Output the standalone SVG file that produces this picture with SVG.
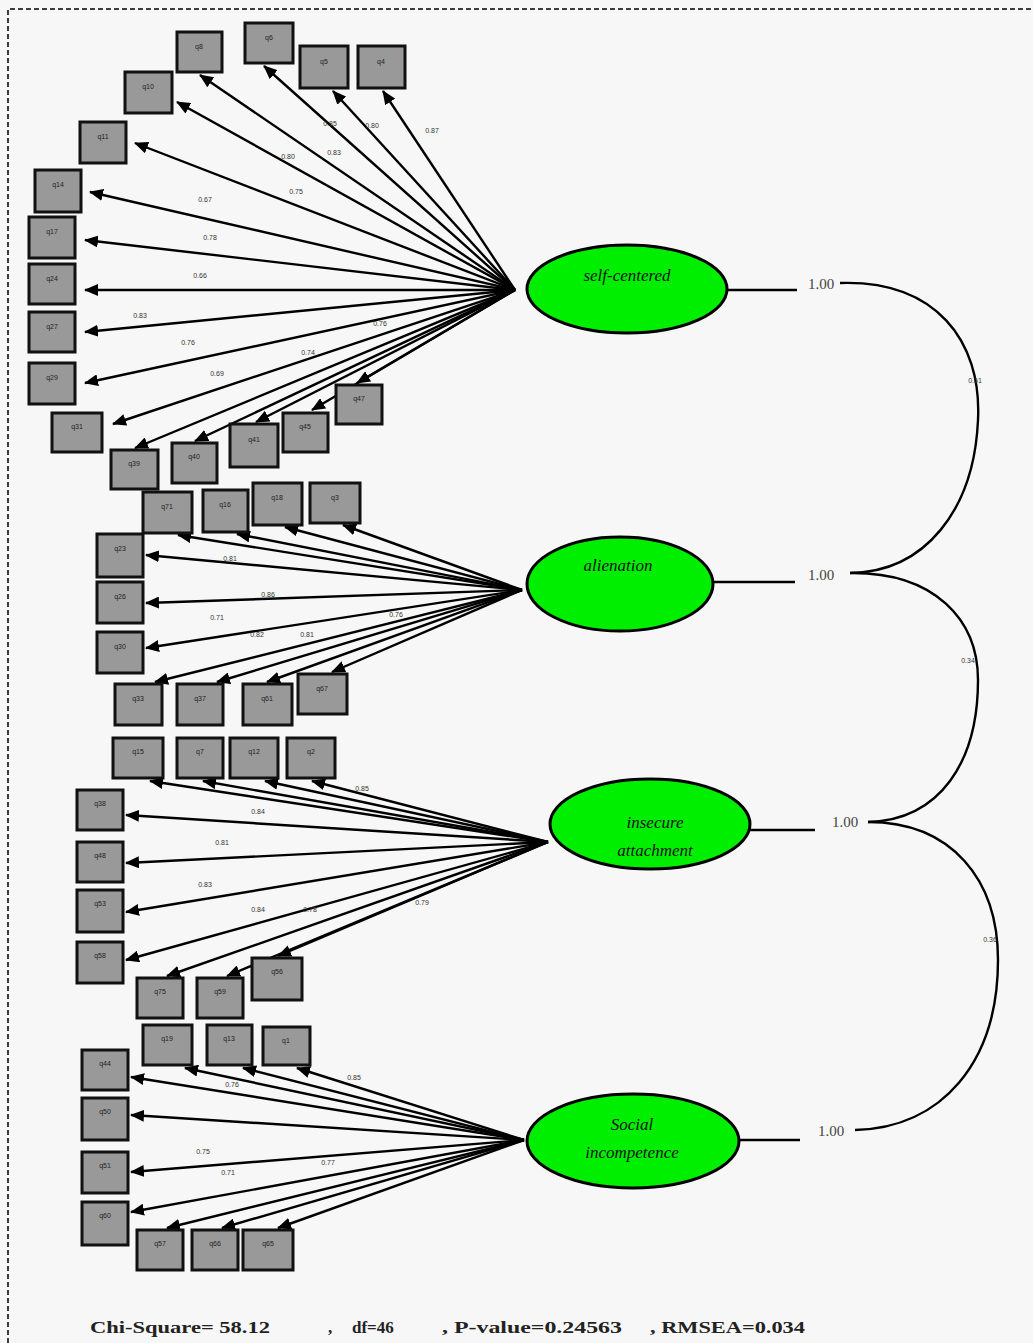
<svg xmlns="http://www.w3.org/2000/svg" width="1033" height="1343" viewBox="0 0 1033 1343">
<style>
.bx{fill:#999;stroke:#111;stroke-width:3}
.bt{font-family:"Liberation Sans",Arial,sans-serif;font-size:7px;fill:#222;text-anchor:middle}
.ar{stroke:#000;stroke-width:2.4;fill:none;marker-end:url(#ah)}
.ln{stroke:#000;stroke-width:2.4;fill:none}
.lb{font-family:"Liberation Sans",Arial,sans-serif;font-size:7px;fill:#333;text-anchor:middle}
.el{fill:#00ee00;stroke:#000;stroke-width:3}
.et{font-family:"Liberation Serif","Times New Roman",serif;font-style:italic;font-size:17px;fill:#111;text-anchor:middle}
.one{font-family:"Liberation Serif","Times New Roman",serif;font-size:15px;fill:#444}
.ft{font-family:"Liberation Serif","Times New Roman",serif;font-size:17px;font-weight:bold;fill:#222}
</style>
<defs>
<marker id="ah" markerWidth="14" markerHeight="12" refX="13" refY="6" orient="auto" markerUnits="userSpaceOnUse"><path d="M0,0 L14,6 L0,12 z" fill="#000"/></marker>
</defs>
<rect x="0" y="0" width="1033" height="1343" fill="#f7f7f7"/>
<path d="M8,1343 V9 H1033" fill="none" stroke="#000" stroke-width="1.5" stroke-dasharray="5,3"/>

<g id="connectors">
<line class="ar" x1="515" y1="290" x2="200" y2="75"/>
<line class="ar" x1="515" y1="290" x2="264" y2="66"/>
<line class="ar" x1="515" y1="290" x2="333" y2="91"/>
<line class="ar" x1="515" y1="290" x2="383" y2="91"/>
<line class="ar" x1="515" y1="290" x2="177" y2="102"/>
<line class="ar" x1="515" y1="290" x2="135" y2="143"/>
<line class="ar" x1="515" y1="290" x2="90" y2="192"/>
<line class="ar" x1="515" y1="290" x2="85" y2="240"/>
<line class="ar" x1="515" y1="290" x2="85" y2="290"/>
<line class="ar" x1="515" y1="290" x2="85" y2="332"/>
<line class="ar" x1="515" y1="290" x2="85" y2="383"/>
<line class="ar" x1="515" y1="290" x2="113" y2="424"/>
<line class="ar" x1="515" y1="290" x2="135" y2="448"/>
<line class="ar" x1="515" y1="290" x2="195" y2="441"/>
<line class="ar" x1="515" y1="290" x2="256" y2="422"/>
<line class="ar" x1="515" y1="290" x2="312" y2="410"/>
<line class="ar" x1="515" y1="290" x2="357" y2="383"/>
<line class="ar" x1="522" y1="590" x2="178" y2="535"/>
<line class="ar" x1="522" y1="590" x2="237" y2="534"/>
<line class="ar" x1="522" y1="590" x2="285" y2="527"/>
<line class="ar" x1="522" y1="590" x2="343" y2="525"/>
<line class="ar" x1="522" y1="590" x2="146" y2="555"/>
<line class="ar" x1="522" y1="590" x2="146" y2="603"/>
<line class="ar" x1="522" y1="590" x2="146" y2="648"/>
<line class="ar" x1="522" y1="590" x2="155" y2="682"/>
<line class="ar" x1="522" y1="590" x2="217" y2="682"/>
<line class="ar" x1="522" y1="590" x2="267" y2="682"/>
<line class="ar" x1="522" y1="590" x2="332" y2="672"/>
<line class="ar" x1="548" y1="842" x2="150" y2="781"/>
<line class="ar" x1="548" y1="842" x2="203" y2="781"/>
<line class="ar" x1="548" y1="842" x2="265" y2="781"/>
<line class="ar" x1="548" y1="842" x2="312" y2="781"/>
<line class="ar" x1="548" y1="842" x2="126" y2="815"/>
<line class="ar" x1="548" y1="842" x2="126" y2="863"/>
<line class="ar" x1="548" y1="842" x2="126" y2="912"/>
<line class="ar" x1="548" y1="842" x2="126" y2="960"/>
<line class="ar" x1="548" y1="842" x2="167" y2="976"/>
<line class="ar" x1="548" y1="842" x2="227" y2="976"/>
<line class="ar" x1="548" y1="842" x2="278" y2="956"/>
<line class="ar" x1="524" y1="1140" x2="185" y2="1068"/>
<line class="ar" x1="524" y1="1140" x2="243" y2="1068"/>
<line class="ar" x1="524" y1="1140" x2="297" y2="1068"/>
<line class="ar" x1="524" y1="1140" x2="131" y2="1077"/>
<line class="ar" x1="524" y1="1140" x2="131" y2="1115"/>
<line class="ar" x1="524" y1="1140" x2="131" y2="1172"/>
<line class="ar" x1="524" y1="1140" x2="131" y2="1212"/>
<line class="ar" x1="524" y1="1140" x2="167" y2="1228"/>
<line class="ar" x1="524" y1="1140" x2="222" y2="1228"/>
<line class="ar" x1="524" y1="1140" x2="278" y2="1228"/>
<line class="ln" x1="727" y1="290" x2="797" y2="290"/>
<line class="ln" x1="713" y1="582" x2="795" y2="582"/>
<line class="ln" x1="750" y1="830" x2="815" y2="830"/>
<line class="ln" x1="739" y1="1140" x2="800" y2="1140"/>
<path class="ln" d="M840,283 C935,280 982,340 978,420 C974,510 925,572 850,573"/>
<path class="ln" d="M850,573 C935,572 978,620 978,680 C978,762 940,820 868,822"/>
<path class="ln" d="M868,822 C952,822 998,880 998,960 C998,1062 942,1128 855,1130"/>
<text class="lb" x="330" y="126">0.85</text>
<text class="lb" x="372" y="128">0.80</text>
<text class="lb" x="432" y="133">0.87</text>
<text class="lb" x="288" y="159">0.80</text>
<text class="lb" x="334" y="155">0.83</text>
<text class="lb" x="296" y="194">0.75</text>
<text class="lb" x="205" y="202">0.67</text>
<text class="lb" x="210" y="240">0.78</text>
<text class="lb" x="200" y="278">0.66</text>
<text class="lb" x="140" y="318">0.83</text>
<text class="lb" x="188" y="345">0.76</text>
<text class="lb" x="217" y="376">0.69</text>
<text class="lb" x="380" y="326">0.76</text>
<text class="lb" x="308" y="355">0.74</text>
<text class="lb" x="230" y="561">0.81</text>
<text class="lb" x="268" y="597">0.86</text>
<text class="lb" x="217" y="620">0.71</text>
<text class="lb" x="257" y="637">0.82</text>
<text class="lb" x="307" y="637">0.81</text>
<text class="lb" x="396" y="617">0.76</text>
<text class="lb" x="362" y="791">0.85</text>
<text class="lb" x="258" y="814">0.84</text>
<text class="lb" x="222" y="845">0.81</text>
<text class="lb" x="205" y="887">0.83</text>
<text class="lb" x="258" y="912">0.84</text>
<text class="lb" x="310" y="912">0.78</text>
<text class="lb" x="422" y="905">0.79</text>
<text class="lb" x="354" y="1080">0.85</text>
<text class="lb" x="232" y="1087">0.76</text>
<text class="lb" x="203" y="1154">0.75</text>
<text class="lb" x="328" y="1165">0.77</text>
<text class="lb" x="228" y="1175">0.71</text>
<text class="lb" x="975" y="383">0.61</text>
<text class="lb" x="968" y="663">0.34</text>
<text class="lb" x="990" y="942">0.36</text>
<text class="one" x="808" y="289">1.00</text>
<text class="one" x="808" y="580">1.00</text>
<text class="one" x="832" y="827">1.00</text>
<text class="one" x="818" y="1136">1.00</text>
</g>

<g id="n-self-centered"><ellipse class="el" cx="627" cy="289" rx="100" ry="44"/><text class="et" x="627" y="281">self-centered</text></g>
<g id="n-alienation"><ellipse class="el" cx="620" cy="584" rx="93" ry="47"/><text class="et" x="618" y="571">alienation</text></g>
<g id="n-insecure"><ellipse class="el" cx="650" cy="824" rx="100" ry="45"/><text class="et" x="655" y="828">insecure</text><text class="et" x="655" y="856">attachment</text></g>
<g id="n-social"><ellipse class="el" cx="633" cy="1141" rx="106" ry="47"/><text class="et" x="632" y="1130">Social</text><text class="et" x="632" y="1158">incompetence</text></g>

<g id="items-self">
<g id="b1"><rect class="bx" x="177" y="32" width="45" height="40"/><text class="bt" x="199" y="49">q8</text></g>
<g id="b2"><rect class="bx" x="245" y="23" width="48" height="40"/><text class="bt" x="269" y="40">q6</text></g>
<g id="b3"><rect class="bx" x="300" y="46" width="48" height="42"/><text class="bt" x="324" y="64">q5</text></g>
<g id="b4"><rect class="bx" x="358" y="46" width="47" height="42"/><text class="bt" x="381" y="64">q4</text></g>
<g id="b5"><rect class="bx" x="125" y="72" width="47" height="41"/><text class="bt" x="148" y="89">q10</text></g>
<g id="b6"><rect class="bx" x="80" y="122" width="46" height="41"/><text class="bt" x="103" y="139">q11</text></g>
<g id="b7"><rect class="bx" x="35" y="170" width="46" height="42"/><text class="bt" x="58" y="187">q14</text></g>
<g id="b8"><rect class="bx" x="29" y="217" width="46" height="41"/><text class="bt" x="52" y="234">q17</text></g>
<g id="b9"><rect class="bx" x="29" y="264" width="46" height="40"/><text class="bt" x="52" y="281">q24</text></g>
<g id="b10"><rect class="bx" x="29" y="312" width="46" height="40"/><text class="bt" x="52" y="329">q27</text></g>
<g id="b11"><rect class="bx" x="29" y="363" width="46" height="41"/><text class="bt" x="52" y="380">q29</text></g>
<g id="b12"><rect class="bx" x="52" y="413" width="50" height="39"/><text class="bt" x="77" y="429">q31</text></g>
<g id="b13"><rect class="bx" x="111" y="450" width="47" height="39"/><text class="bt" x="134" y="466">q39</text></g>
<g id="b14"><rect class="bx" x="172" y="443" width="45" height="40"/><text class="bt" x="194" y="459">q40</text></g>
<g id="b15"><rect class="bx" x="230" y="424" width="48" height="43"/><text class="bt" x="254" y="442">q41</text></g>
<g id="b16"><rect class="bx" x="283" y="413" width="45" height="39"/><text class="bt" x="305" y="429">q45</text></g>
<g id="b17"><rect class="bx" x="336" y="385" width="46" height="39"/><text class="bt" x="359" y="401">q47</text></g>
</g>

<g id="items-alienation">
<g id="c1"><rect class="bx" x="143" y="492" width="49" height="41"/><text class="bt" x="167" y="509">q71</text></g>
<g id="c2"><rect class="bx" x="203" y="490" width="45" height="42"/><text class="bt" x="225" y="507">q16</text></g>
<g id="c3"><rect class="bx" x="253" y="483" width="49" height="42"/><text class="bt" x="277" y="500">q18</text></g>
<g id="c4"><rect class="bx" x="310" y="483" width="50" height="40"/><text class="bt" x="335" y="500">q3</text></g>
<g id="c5"><rect class="bx" x="97" y="534" width="46" height="43"/><text class="bt" x="120" y="551">q23</text></g>
<g id="c6"><rect class="bx" x="97" y="582" width="46" height="41"/><text class="bt" x="120" y="599">q26</text></g>
<g id="c7"><rect class="bx" x="97" y="632" width="46" height="41"/><text class="bt" x="120" y="649">q30</text></g>
<g id="c8"><rect class="bx" x="115" y="684" width="47" height="41"/><text class="bt" x="138" y="701">q33</text></g>
<g id="c9"><rect class="bx" x="177" y="684" width="46" height="41"/><text class="bt" x="200" y="701">q37</text></g>
<g id="c10"><rect class="bx" x="243" y="684" width="49" height="41"/><text class="bt" x="267" y="701">q61</text></g>
<g id="c11"><rect class="bx" x="298" y="674" width="49" height="40"/><text class="bt" x="322" y="691">q67</text></g>
</g>

<g id="items-insecure">
<g id="d1"><rect class="bx" x="113" y="738" width="50" height="40"/><text class="bt" x="138" y="754">q15</text></g>
<g id="d2"><rect class="bx" x="177" y="738" width="46" height="40"/><text class="bt" x="200" y="754">q7</text></g>
<g id="d3"><rect class="bx" x="230" y="738" width="48" height="40"/><text class="bt" x="254" y="754">q12</text></g>
<g id="d4"><rect class="bx" x="287" y="738" width="48" height="40"/><text class="bt" x="311" y="754">q2</text></g>
<g id="d5"><rect class="bx" x="77" y="790" width="46" height="40"/><text class="bt" x="100" y="806">q38</text></g>
<g id="d6"><rect class="bx" x="77" y="842" width="46" height="40"/><text class="bt" x="100" y="858">q48</text></g>
<g id="d7"><rect class="bx" x="77" y="890" width="46" height="42"/><text class="bt" x="100" y="906">q53</text></g>
<g id="d8"><rect class="bx" x="77" y="942" width="46" height="41"/><text class="bt" x="100" y="958">q58</text></g>
<g id="d9"><rect class="bx" x="137" y="978" width="46" height="40"/><text class="bt" x="160" y="994">q75</text></g>
<g id="d10"><rect class="bx" x="197" y="978" width="46" height="40"/><text class="bt" x="220" y="994">q59</text></g>
<g id="d11"><rect class="bx" x="252" y="958" width="50" height="42"/><text class="bt" x="277" y="974">q56</text></g>
</g>

<g id="items-social">
<g id="e1"><rect class="bx" x="143" y="1025" width="49" height="40"/><text class="bt" x="167" y="1041">q19</text></g>
<g id="e2"><rect class="bx" x="207" y="1025" width="45" height="40"/><text class="bt" x="229" y="1041">q13</text></g>
<g id="e3"><rect class="bx" x="263" y="1027" width="47" height="38"/><text class="bt" x="286" y="1043">q1</text></g>
<g id="e4"><rect class="bx" x="82" y="1050" width="46" height="40"/><text class="bt" x="105" y="1066">q44</text></g>
<g id="e5"><rect class="bx" x="82" y="1098" width="46" height="42"/><text class="bt" x="105" y="1114">q50</text></g>
<g id="e6"><rect class="bx" x="82" y="1152" width="46" height="41"/><text class="bt" x="105" y="1168">q51</text></g>
<g id="e7"><rect class="bx" x="82" y="1202" width="46" height="43"/><text class="bt" x="105" y="1218">q60</text></g>
<g id="e8"><rect class="bx" x="137" y="1230" width="46" height="40"/><text class="bt" x="160" y="1246">q57</text></g>
<g id="e9"><rect class="bx" x="192" y="1230" width="46" height="40"/><text class="bt" x="215" y="1246">q66</text></g>
<g id="e10"><rect class="bx" x="243" y="1230" width="50" height="40"/><text class="bt" x="268" y="1246">q65</text></g>
</g>

<g id="footer">
<text class="ft" x="90" y="1333" textLength="180" lengthAdjust="spacingAndGlyphs">Chi-Square= 58.12</text>
<text class="ft" x="328" y="1333">,</text>
<text class="ft" x="352" y="1333">df=46</text>
<text class="ft" x="442" y="1333" textLength="180" lengthAdjust="spacingAndGlyphs">, P-value=0.24563</text>
<text class="ft" x="650" y="1333" textLength="155" lengthAdjust="spacingAndGlyphs">, RMSEA=0.034</text>
</g>
</svg>
